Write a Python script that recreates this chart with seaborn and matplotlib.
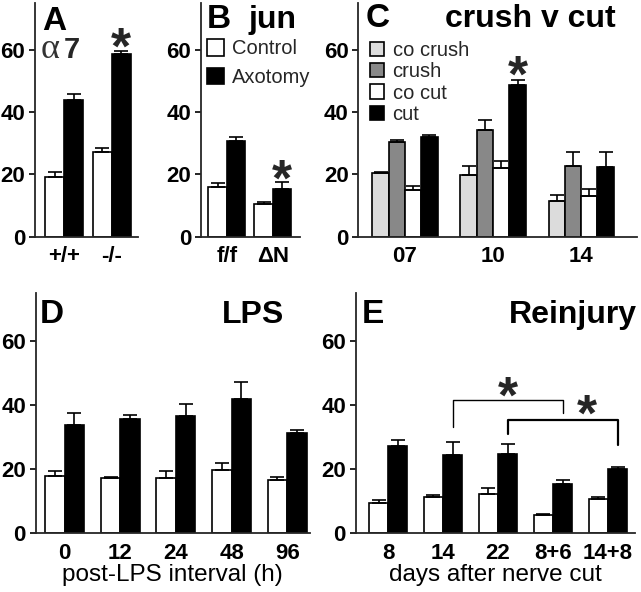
import matplotlib
matplotlib.use("Agg")
import matplotlib.pyplot as plt
from matplotlib.patches import Patch
import numpy as np
import pandas as pd
import seaborn as sns

# A: alpha7 knockout
a_groups = ["+/+", "-/-"]
a_control = [19.3, 27.1]
a_control_sem = [1.6, 1.5]
a_axotomy = [43.9, 58.8]
a_axotomy_sem = [1.8, 0.8]

# B: jun
b_groups = ["f/f", "ΔN"]
b_control = [16.0, 10.4]
b_control_sem = [1.3, 0.9]
b_axotomy = [30.8, 15.2]
b_axotomy_sem = [1.1, 2.4]

# C: crush v cut
c_groups = ["07", "10", "14"]
c_names = ["co crush", "crush", "co cut", "cut"]
c_co_crush = [20.6, 19.9, 11.6]
c_co_crush_sem = [0.3, 2.9, 1.7]
c_crush = [30.3, 34.3, 22.6]
c_crush_sem = [0.8, 3.2, 4.6]
c_co_cut = [15.1, 22.0, 13.2]
c_co_cut_sem = [1.3, 2.4, 2.0]
c_cut = [32.1, 48.6, 22.3]
c_cut_sem = [0.5, 1.6, 4.8]

# D: LPS
d_groups = ["0", "12", "24", "48", "96"]
d_control = [18.0, 17.4, 17.2, 19.8, 16.7]
d_control_sem = [1.6, 0.1, 2.3, 2.3, 1.0]
d_axotomy = [33.9, 35.7, 36.8, 42.0, 31.3]
d_axotomy_sem = [3.7, 1.3, 3.6, 5.2, 1.1]

# E: reinjury
e_groups = ["8", "14", "22", "8+6", "14+8"]
e_control = [9.6, 11.2, 12.2, 5.6, 10.8]
e_control_sem = [0.9, 0.9, 1.8, 0.3, 0.4]
e_axotomy = [27.2, 24.5, 24.8, 15.3, 20.0]
e_axotomy_sem = [2.1, 3.9, 3.2, 1.3, 0.8]
# brackets between axotomy bars: (from group, to group, top, left end, right end, star pos)
e_brackets = [(1, 3, 41.6, 33.3, 37.5, 0.5), (2, 4, 35.3, 31.1, 27.5, 0.72)]
e_stars = [44.8, 39.3]

W, H = 641, 592
sns.set_theme(style="ticks")
plt.rcParams["font.family"] = ["Liberation Sans", "DejaVu Sans"]
plt.rcParams["axes.linewidth"] = 1.3


def fx(px):
    return px / W


def fy(py):
    return 1 - py / H


def panel(fig, left, right, top, bottom, xlim):
    ax = fig.add_axes([fx(left), fy(bottom), fx(right - left), (bottom - top) / H])
    return ax, xlim


def bars(ax, groups, names, values, sems, colors, width, xlim):
    rows = []
    for name, vals in zip(names, values):
        for g, v in zip(groups, vals):
            rows.append({"group": g, "cond": name, "value": v})
    df = pd.DataFrame(rows)
    sns.barplot(df, x="group", y="value", hue="cond", order=groups,
                hue_order=names, palette=colors, width=width, saturation=1,
                edgecolor="black", linewidth=1.2, errorbar=None, legend=False, ax=ax)
    centers = []
    for cont, sem in zip(ax.containers, sems):
        xs = [p.get_x() + p.get_width() / 2 for p in cont]
        hs = [p.get_height() for p in cont]
        ax.errorbar(xs, hs, yerr=[np.zeros(len(sem)), sem], fmt="none",
                    ecolor="black", elinewidth=1.2, capsize=5, capthick=1.2, zorder=3)
        centers.append(xs)
    ax.set_xlim(*xlim)
    ax.set_ylim(0, 75)
    ax.set_yticks([0, 20, 40, 60])
    ax.set_xlabel("")
    ax.set_ylabel("")
    sns.despine(ax=ax)
    ax.tick_params(axis="y", direction="out", length=4, width=1.2, pad=3,
                   labelsize=16, colors="black")
    ax.tick_params(axis="x", length=0, pad=7, labelsize=16, colors="black")
    for lbl in ax.get_xticklabels() + ax.get_yticklabels():
        lbl.set_fontweight("bold")
    return centers


def star(ax, x, y):
    ax.annotate("*", xy=(x, y), xytext=(0, -0.45 * 37), textcoords="offset points",
                ha="center", va="baseline", fontsize=37, fontweight="bold")


def legend(ax, names, colors, x, y, spacing, size):
    handles = [Patch(facecolor=c, edgecolor="black", linewidth=1.2) for c in colors]
    ax.legend(handles, names, loc="upper left", bbox_to_anchor=(x, y),
              frameon=False, borderpad=0, borderaxespad=0, handletextpad=0.4,
              handlelength=size, handleheight=size, labelspacing=spacing, fontsize=14.5)


fig = plt.figure(figsize=(W / 100, H / 100), dpi=100)
pair = ["white", "black"]

ax, xl = panel(fig, 35, 138.3, 3.3, 236.7, (-0.61, 1.56))
cen = bars(ax, a_groups, ["Control", "Axotomy"], [a_control, a_axotomy],
           [a_control_sem, a_axotomy_sem], pair, 0.8, xl)
star(ax, cen[1][1], 63)

ax, xl = panel(fig, 201, 300, 3.3, 236.7, (-0.56, 1.59))
cen = bars(ax, b_groups, ["Control", "Axotomy"], [b_control, b_axotomy],
           [b_control_sem, b_axotomy_sem], pair, 0.8, xl)
star(ax, cen[1][1], 20.7)
legend(ax, ["Control", "Axotomy"], pair, 0.06, 0.845, 0.45, 0.85)

ax, xl = panel(fig, 358.3, 636.7, 3.3, 236.7, (-0.53, 2.63))
c_colors = ["#dcdcdc", "#888888", "white", "black"]
cen = bars(ax, c_groups, c_names, [c_co_crush, c_crush, c_co_cut, c_cut],
           [c_co_crush_sem, c_crush_sem, c_co_cut_sem, c_cut_sem], c_colors, 0.74, xl)
star(ax, cen[3][1], 53.9)
legend(ax, c_names, c_colors, 0.042, 0.838, 0.11, 0.72)

ax, xl = panel(fig, 35.7, 310, 293.3, 533.3, (-0.52, 4.41))
bars(ax, d_groups, ["Control", "Axotomy"], [d_control, d_axotomy],
     [d_control_sem, d_axotomy_sem], pair, 0.7, xl)
ax.set_xlabel("post-LPS interval (h)", fontsize=17.5, labelpad=0, color="black")

ax, xl = panel(fig, 355.7, 635, 293.3, 533.3, (-0.59, 4.49))
cen = bars(ax, e_groups, ["Control", "Axotomy"], [e_control, e_axotomy],
           [e_control_sem, e_axotomy_sem], pair, 0.7, xl)
ax.set_xlabel("days after nerve cut", fontsize=17.5, labelpad=0, color="black")
for (g0, g1, top, y0, y1, frac), sy, lw in zip(e_brackets, e_stars, [1.0, 1.6]):
    x0, x1 = cen[1][g0], cen[1][g1]
    ax.plot([x0, x0, x1, x1], [y0, top, top, y1], color="black", lw=lw)
    star(ax, x0 + frac * (x1 - x0), sy)

# panel letters and titles
big = dict(fontsize=24, fontweight="bold", va="baseline", color="black")
fig.text(fx(41.7), fy(30), "A", ha="left", **big)
fig.text(fx(206.7), fy(28.3), "B", ha="left", **big)
fig.text(fx(248), fy(28.3), "jun", ha="left", **dict(big, fontsize=23))
fig.text(fx(366), fy(26.7), "C", ha="left", **big)
fig.text(fx(616), fy(26.7), "crush v cut", ha="right", **dict(big, fontsize=23))
fig.text(fx(40), fy(323.3), "D", ha="left", **big)
fig.text(fx(284), fy(323.3), "LPS", ha="right", **dict(big, fontsize=23))
fig.text(fx(362), fy(323.3), "E", ha="left", **big)
fig.text(fx(637), fy(323.3), "Reinjury", ha="right", **dict(big, fontsize=23))
fig.text(fx(41), fy(58.3), "α", ha="left", va="baseline", fontsize=26,
         family=["Liberation Serif", "DejaVu Serif"], color="#333333")
fig.text(fx(63.5), fy(58.3), "7", ha="left", va="baseline", fontsize=21, fontweight="bold")

fig.savefig("out.png", dpi=100)
